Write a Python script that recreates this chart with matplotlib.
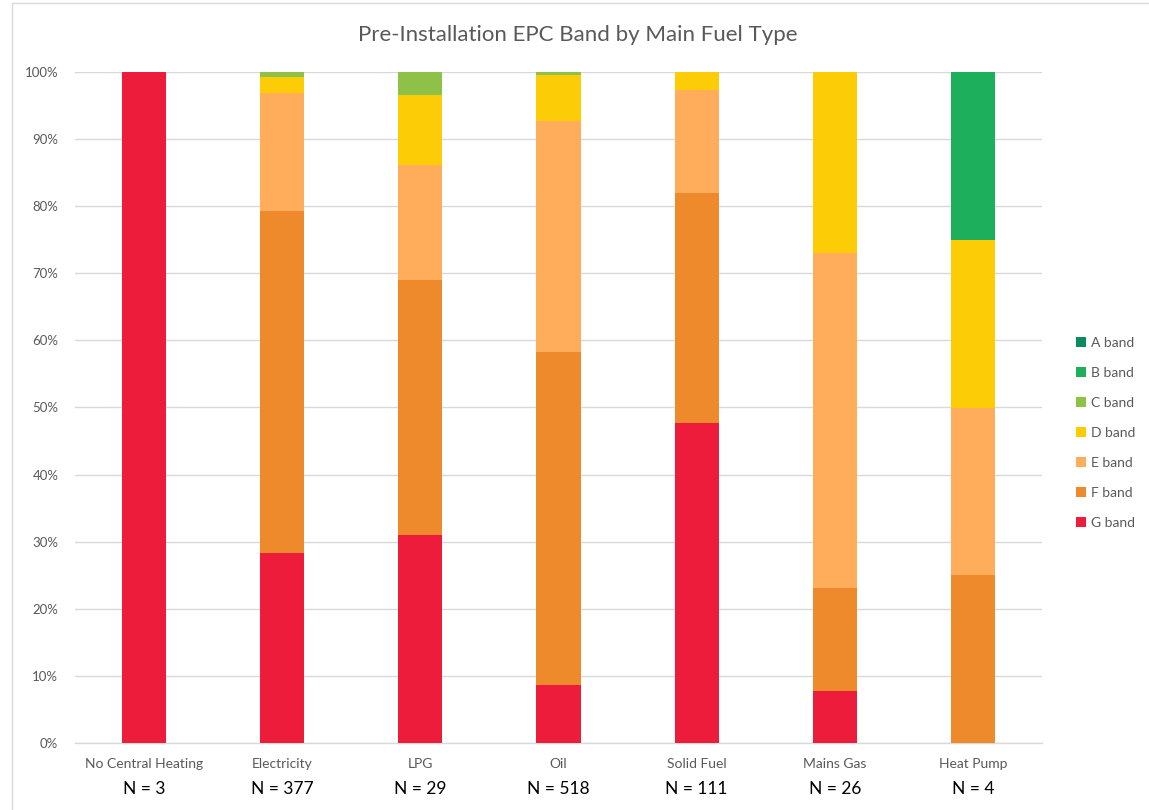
import matplotlib
matplotlib.use("Agg")
import matplotlib.pyplot as plt
from matplotlib.patches import Rectangle, Patch
from matplotlib.ticker import FuncFormatter, MultipleLocator
import numpy as np

plt.rcParams['font.family'] = ['Lato', 'DejaVu Sans']

categories = ["No Central Heating", "Electricity", "LPG", "Oil", "Solid Fuel", "Mains Gas", "Heat Pump"]
n_homes = [3, 377, 29, 518, 111, 26, 4]

# dwelling counts per EPC band, in category order
g_band = [3, 107, 9, 45, 53, 2, 0]
f_band = [0, 192, 11, 257, 38, 4, 1]
e_band = [0, 66, 5, 178, 17, 13, 1]
d_band = [0, 9, 3, 36, 3, 7, 1]
c_band = [0, 3, 1, 2, 0, 0, 0]
b_band = [0, 0, 0, 0, 0, 0, 1]
a_band = [0, 0, 0, 0, 0, 0, 0]

bands = ["G band", "F band", "E band", "D band", "C band", "B band", "A band"]
band_counts = [g_band, f_band, e_band, d_band, c_band, b_band, a_band]
band_colors = ["#ED1C3A", "#EE892C", "#FFAD5B", "#FCCC07", "#8DC148", "#1DAF5B", "#0E8A5C"]

fig = plt.figure(figsize=(11.49, 8.10), dpi=100)
fig.patches.append(Rectangle((12 / 1149, -0.01), 1.0, (810 - 3) / 810 + 0.01,
                             transform=fig.transFigure, fill=False,
                             edgecolor="#D9D9D9", linewidth=1.0))

ax = fig.add_axes([75 / 1149, 1 - 743 / 810, (1042 - 75) / 1149, (743 - 72) / 810])

x = np.arange(len(categories))
totals = np.array(n_homes, dtype=float)
bottom = np.zeros(len(categories))
for name, counts, color in zip(bands, band_counts, band_colors):
    share = np.array(counts, dtype=float) / totals
    ax.bar(x, share, 0.32, bottom=bottom, color=color, label=name, zorder=3)
    bottom += share

ax.set_xlim(-0.5, len(categories) - 0.5)
ax.set_ylim(0, 1)
ax.yaxis.set_major_locator(MultipleLocator(0.1))
ax.yaxis.set_major_formatter(FuncFormatter(lambda v, p: f"{v * 100:.0f}%"))
ax.grid(axis="y", color="#D9D9D9", linewidth=1.0, zorder=0)
for side in ["left", "right", "top"]:
    ax.spines[side].set_visible(False)
ax.spines["bottom"].set_color("#D9D9D9")
ax.spines["bottom"].set_linewidth(1.0)
ax.tick_params(axis="y", length=0, labelsize=9.5, labelcolor="#595959", pad=12)
ax.tick_params(axis="x", length=0)
ax.set_xticks(x)
ax.set_xticklabels([])

for xi, name, n in zip(x, categories, n_homes):
    ax.text(xi, -0.032, name, transform=ax.get_xaxis_transform(), ha="center", va="center",
            fontsize=10, color="#595959")
    ax.text(xi, -0.068, f"N = {n}", transform=ax.get_xaxis_transform(), ha="center", va="center",
            fontsize=12.5, color="#000000")

fig.text(578 / 1149, 1 - 35 / 810, "Pre-Installation EPC Band by Main Fuel Type",
         ha="center", va="center", fontsize=16, color="#595959")

handles = [Patch(facecolor=c, edgecolor="none") for c in band_colors][::-1]
labels = bands[::-1]
fig.legend(handles, labels, loc="center left", bbox_to_anchor=(1069 / 1149, 1 - 433 / 810),
           frameon=False, fontsize=10, labelcolor="#595959", handlelength=0.7, handleheight=0.7,
           handletextpad=0.4, labelspacing=1.3, borderpad=0)

fig.savefig("out.png", dpi=100)
